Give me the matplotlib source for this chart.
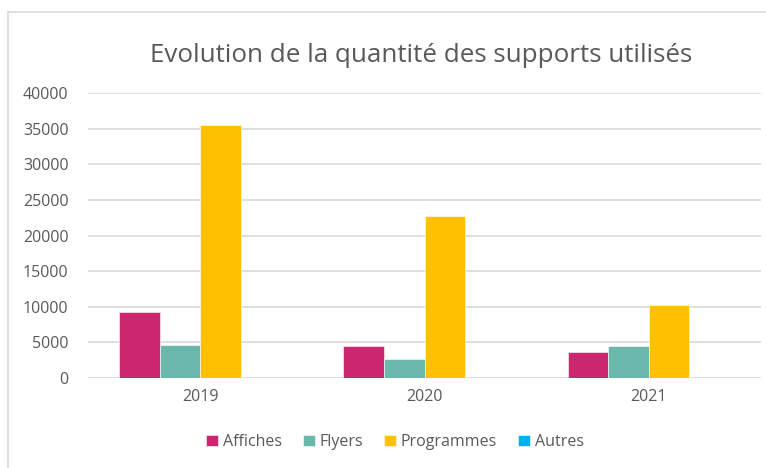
import numpy as np
import matplotlib.pyplot as plt
from matplotlib.lines import Line2D

plt.rcParams['font.family'] = ['Open Sans', 'DejaVu Sans']

annees = ['2019', '2020', '2021']
series = ['Affiches', 'Flyers', 'Programmes', 'Autres']
affiches = [9200, 4500, 3600]
flyers = [4650, 2600, 4500]
programmes = [35500, 22800, 10300]
autres = [0, 0, 0]
couleurs = ['#CC2671', '#6AB7AC', '#FFC000', '#00B0F0']

W, H = 766, 468
fig = plt.figure(figsize=(W / 100, H / 100), dpi=100)
ax = fig.add_axes([88 / W, 1 - 378 / H, (761 - 88) / W, (378 - 93) / H])

x = np.arange(len(annees))
larg = 0.181
valeurs = [affiches, flyers, programmes, autres]
for i, (nom, v, c) in enumerate(zip(series, valeurs, couleurs)):
    ax.bar(x + (i - 1.5) * larg, v, larg, color=c, label=nom,
           edgecolor='white', linewidth=0.4, zorder=3)

ax.set_xlim(-0.5, 2.5)
ax.set_ylim(0, 40000)
ax.set_yticks(range(0, 40001, 5000))
ax.set_xticks(x)
ax.set_xticklabels(annees)
ax.grid(axis='y', color='#D9D9D9', linewidth=1.2, zorder=0)
for s in ax.spines.values():
    s.set_visible(False)
ax.tick_params(length=0, labelsize=11.5, colors='#595959', pad=8)
ax.tick_params(axis='y', pad=14)

fig.text(421 / W, 1 - 55 / H, 'Evolution de la quantité des supports utilisés',
         ha='center', va='center', fontsize=18.7, color='#595959')

ax.legend(loc='center', bbox_to_anchor=(395 / W, 1 - 442 / H),
          bbox_transform=fig.transFigure, ncol=4, frameon=False,
          fontsize=11.5, labelcolor='#595959', handlelength=0.75,
          handleheight=0.75, handletextpad=0.3, columnspacing=1.3)

# cadre du graphique
fig.add_artist(Line2D([8 / W, 8 / W], [0, 1 - 12 / H], color='#D9D9D9', lw=1.2))
fig.add_artist(Line2D([8 / W, 1], [1 - 12 / H, 1 - 12 / H], color='#D9D9D9', lw=1.2))

fig.savefig('out.png', dpi=100)
